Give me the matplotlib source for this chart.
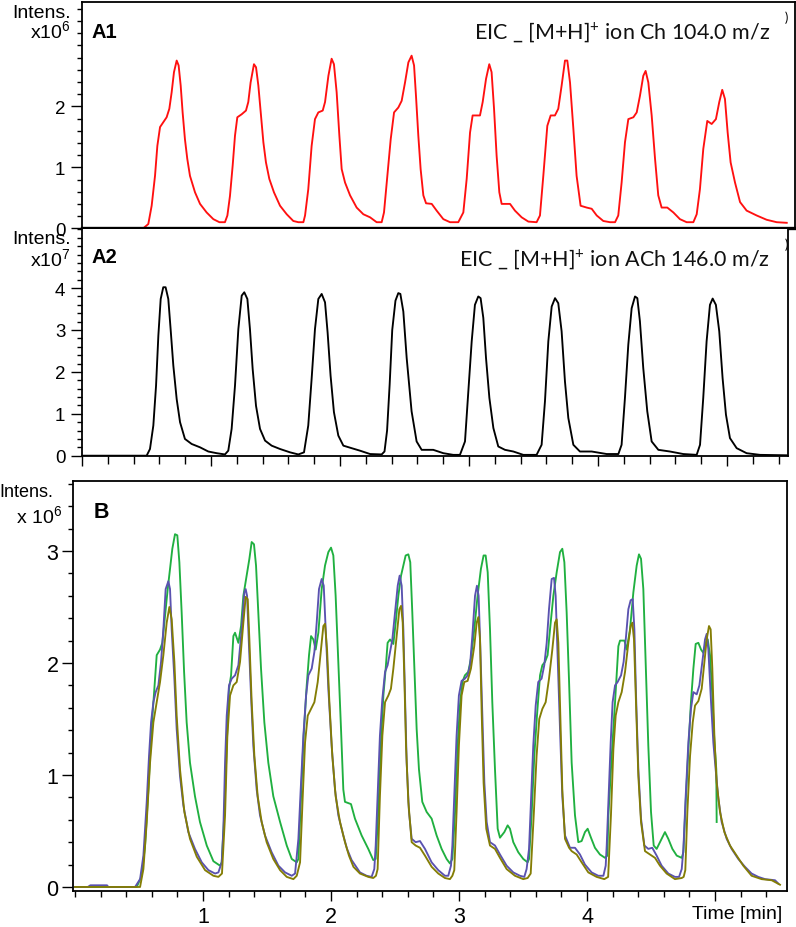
import matplotlib
matplotlib.use("Agg")
import matplotlib.pyplot as plt
from matplotlib.ticker import MultipleLocator, FixedLocator, NullFormatter

plt.rcParams['font.family'] = ['Liberation Sans', 'DejaVu Sans']
plt.rcParams['mathtext.default'] = 'regular'

# ---------------- data (time [min], intensity) ----------------
ch_points = [  # A1, x10^6, red
    (0.00, 0.00), (0.475, 0.00), (0.514, 0.07), (0.540, 0.37), (0.566, 0.86), (0.584, 1.35), (0.605, 1.66),
    (0.630, 1.74), (0.656, 1.82), (0.677, 1.96), (0.695, 2.23), (0.713, 2.56), (0.734, 2.75), (0.749, 2.67),
    (0.765, 2.34), (0.780, 1.90), (0.798, 1.46), (0.816, 1.14), (0.837, 0.86), (0.876, 0.59), (0.915, 0.40),
    (0.966, 0.26), (1.018, 0.15), (1.065, 0.10), (1.108, 0.10),
    (1.127, 0.21), (1.147, 0.53), (1.168, 1.03), (1.186, 1.52), (1.204, 1.82), (1.238, 1.87), (1.271, 1.93),
    (1.289, 2.07), (1.307, 2.39), (1.333, 2.69), (1.349, 2.64), (1.367, 2.34), (1.388, 1.85), (1.406, 1.41),
    (1.426, 1.08), (1.452, 0.81), (1.488, 0.59), (1.535, 0.37), (1.587, 0.23), (1.638, 0.12), (1.677, 0.10),
    (1.716, 0.10),
    (1.729, 0.21), (1.754, 0.64), (1.780, 1.35), (1.806, 1.79), (1.832, 1.90), (1.866, 1.93), (1.884, 2.07),
    (1.910, 2.50), (1.935, 2.78), (1.953, 2.69), (1.974, 2.23), (1.995, 1.52), (2.013, 0.97), (2.039, 0.75),
    (2.078, 0.54), (2.129, 0.34), (2.181, 0.23), (2.233, 0.18), (2.284, 0.10), (2.323, 0.10),
    (2.341, 0.26), (2.367, 0.86), (2.393, 1.46), (2.419, 1.90), (2.452, 1.98), (2.478, 2.09), (2.504, 2.39),
    (2.530, 2.72), (2.555, 2.83), (2.574, 2.67), (2.589, 2.17), (2.607, 1.52), (2.625, 0.97), (2.646, 0.54),
    (2.667, 0.41), (2.711, 0.40), (2.749, 0.29), (2.801, 0.15), (2.853, 0.10), (2.917, 0.10),
    (2.956, 0.26), (2.982, 0.81), (3.008, 1.57), (3.028, 1.85), (3.059, 1.85), (3.085, 1.85), (3.106, 2.07),
    (3.132, 2.45), (3.157, 2.69), (3.175, 2.56), (3.194, 1.96), (3.214, 1.19), (3.235, 0.59), (3.253, 0.40),
    (3.292, 0.40), (3.318, 0.40), (3.356, 0.29), (3.408, 0.18), (3.460, 0.11), (3.524, 0.10),
    (3.550, 0.21), (3.576, 0.86), (3.607, 1.68), (3.633, 1.85), (3.666, 1.85), (3.692, 1.96), (3.718, 2.34),
    (3.744, 2.75), (3.762, 2.75), (3.783, 2.39), (3.809, 1.63), (3.834, 0.86), (3.865, 0.37), (3.912, 0.34),
    (3.951, 0.32), (3.990, 0.21), (4.041, 0.12), (4.093, 0.10), (4.132, 0.10),
    (4.157, 0.21), (4.183, 0.75), (4.209, 1.41), (4.235, 1.79), (4.274, 1.82), (4.300, 1.90), (4.325, 2.17),
    (4.351, 2.50), (4.369, 2.58), (4.390, 2.39), (4.416, 1.85), (4.442, 1.14), (4.467, 0.54), (4.493, 0.34),
    (4.537, 0.34), (4.584, 0.26), (4.635, 0.15), (4.687, 0.10), (4.739, 0.10),
    (4.765, 0.23), (4.790, 0.64), (4.816, 1.30), (4.847, 1.76), (4.881, 1.71), (4.914, 1.79), (4.940, 2.07),
    (4.963, 2.27), (4.984, 2.12), (5.005, 1.57), (5.028, 1.08), (5.062, 0.75), (5.101, 0.43), (5.152, 0.29),
    (5.230, 0.21), (5.307, 0.14), (5.385, 0.10), (5.463, 0.09),
]

ach_points = [  # A2, x10^7, black
    (0.00, 0.00), (0.501, 0.00), (0.527, 0.16), (0.553, 0.72), (0.574, 1.67), (0.592, 2.87), (0.610, 3.74),
    (0.630, 4.02), (0.648, 4.02), (0.669, 3.74), (0.687, 3.02), (0.708, 2.15), (0.734, 1.35), (0.760, 0.80),
    (0.798, 0.40), (0.850, 0.28), (0.915, 0.20), (0.979, 0.10), (1.044, 0.06), (1.108, 0.03),
    (1.134, 0.12), (1.160, 0.64), (1.186, 1.67), (1.212, 3.02), (1.238, 3.82), (1.258, 3.90), (1.282, 3.74),
    (1.302, 3.02), (1.323, 2.07), (1.349, 1.19), (1.380, 0.64), (1.419, 0.36), (1.470, 0.24), (1.535, 0.16),
    (1.613, 0.08), (1.677, 0.03),
    (1.721, 0.08), (1.754, 0.72), (1.780, 1.83), (1.806, 3.02), (1.832, 3.74), (1.858, 3.86), (1.884, 3.66),
    (1.904, 2.94), (1.927, 1.91), (1.953, 1.04), (1.987, 0.48), (2.026, 0.24), (2.090, 0.18), (2.155, 0.12),
    (2.233, 0.04), (2.323, 0.03),
    (2.345, 0.10), (2.365, 0.60), (2.385, 1.70), (2.405, 3.00), (2.430, 3.70), (2.452, 3.88), (2.468, 3.86),
    (2.491, 3.44), (2.517, 2.33), (2.555, 1.06), (2.594, 0.34), (2.633, 0.14), (2.723, 0.14), (2.801, 0.06),
    (2.878, 0.02), (2.930, 0.02),
    (2.969, 0.34), (2.995, 1.54), (3.021, 2.73), (3.046, 3.60), (3.072, 3.80), (3.090, 3.76), (3.111, 3.29),
    (3.132, 2.33), (3.158, 1.38), (3.189, 0.66), (3.227, 0.22), (3.279, 0.14), (3.344, 0.10), (3.421, 0.02),
    (3.524, 0.02),
    (3.563, 0.26), (3.589, 1.30), (3.615, 2.73), (3.641, 3.56), (3.667, 3.76), (3.692, 3.64), (3.718, 2.97),
    (3.744, 1.77), (3.770, 0.90), (3.809, 0.26), (3.860, 0.10), (3.951, 0.10), (4.067, 0.04), (4.158, 0.04),
    (4.183, 0.26), (4.209, 1.38), (4.235, 2.65), (4.261, 3.52), (4.287, 3.80), (4.305, 3.76), (4.325, 3.21),
    (4.351, 2.09), (4.382, 1.06), (4.416, 0.34), (4.468, 0.14), (4.558, 0.10), (4.661, 0.04), (4.765, 0.02),
    (4.791, 0.26), (4.816, 1.38), (4.842, 2.73), (4.868, 3.60), (4.889, 3.75), (4.914, 3.60), (4.940, 2.97),
    (4.966, 1.85), (4.992, 0.98), (5.023, 0.42), (5.075, 0.18), (5.152, 0.06), (5.256, 0.02), (5.463, 0.01),
]

green_points = [  # B, x10^6
    (0.00, 0.00), (0.482, 0.00), (0.521, 0.10), (0.547, 0.37), (0.573, 0.87), (0.594, 1.35), (0.620, 1.77),
    (0.638, 2.07), (0.664, 2.12), (0.682, 2.18), (0.703, 2.42), (0.724, 2.66), (0.742, 2.84), (0.760, 3.02),
    (0.781, 3.15), (0.799, 3.14), (0.815, 2.90), (0.833, 2.45), (0.852, 1.92), (0.872, 1.47), (0.898, 1.11),
    (0.937, 0.81), (0.976, 0.58), (1.029, 0.37), (1.081, 0.23), (1.133, 0.19), (1.146, 0.22),
    (1.167, 0.67), (1.185, 1.26), (1.203, 1.77), (1.219, 1.89), (1.237, 2.24), (1.250, 2.27), (1.276, 2.18),
    (1.297, 2.33), (1.315, 2.60), (1.341, 2.78), (1.362, 2.93), (1.380, 3.08), (1.398, 3.06), (1.414, 2.87),
    (1.432, 2.45), (1.453, 1.95), (1.479, 1.47), (1.510, 1.11), (1.549, 0.81), (1.602, 0.58), (1.654, 0.37),
    (1.693, 0.25), (1.732, 0.22), (1.745, 0.25),
    (1.766, 0.81), (1.786, 1.35), (1.810, 1.80), (1.828, 2.07), (1.844, 2.24), (1.862, 2.21), (1.880, 2.12),
    (1.901, 2.27), (1.927, 2.66), (1.953, 2.87), (1.979, 2.99), (2.000, 3.03), (2.018, 2.96), (2.036, 2.60),
    (2.057, 2.01), (2.078, 1.41), (2.096, 0.87), (2.109, 0.76), (2.156, 0.74), (2.187, 0.61), (2.239, 0.46),
    (2.291, 0.34), (2.330, 0.24), (2.349, 0.25),
    (2.369, 0.67), (2.390, 1.29), (2.409, 1.71), (2.427, 1.95), (2.442, 2.18), (2.461, 2.21), (2.487, 2.17),
    (2.505, 2.36), (2.526, 2.60), (2.547, 2.78), (2.565, 2.87), (2.583, 2.96), (2.604, 2.97), (2.619, 2.90),
    (2.635, 2.45), (2.651, 1.95), (2.669, 1.41), (2.687, 1.05), (2.713, 0.76), (2.747, 0.67), (2.786, 0.61),
    (2.825, 0.46), (2.864, 0.34), (2.903, 0.25), (2.929, 0.21), (2.948, 0.25),
    (2.969, 0.67), (2.989, 1.26), (3.007, 1.62), (3.026, 1.83), (3.046, 1.89), (3.072, 1.92), (3.093, 2.04),
    (3.119, 2.30), (3.145, 2.60), (3.171, 2.84), (3.192, 2.96), (3.208, 2.96), (3.224, 2.81), (3.242, 2.30),
    (3.260, 1.65), (3.281, 1.05), (3.302, 0.52), (3.320, 0.44), (3.354, 0.49), (3.380, 0.55), (3.398, 0.52),
    (3.424, 0.40), (3.463, 0.31), (3.502, 0.25), (3.536, 0.22), (3.547, 0.25),
    (3.567, 0.64), (3.588, 1.17), (3.609, 1.53), (3.633, 1.89), (3.651, 1.98), (3.672, 2.01), (3.692, 2.07),
    (3.711, 2.30), (3.737, 2.60), (3.763, 2.81), (3.789, 2.99), (3.807, 3.02), (3.823, 2.90), (3.841, 2.45),
    (3.859, 1.86), (3.880, 1.11), (3.906, 0.64), (3.932, 0.40), (3.958, 0.41), (3.984, 0.49), (4.005, 0.52),
    (4.031, 0.44), (4.062, 0.35), (4.101, 0.29), (4.141, 0.26), (4.159, 0.28),
    (4.167, 0.64), (4.193, 1.17), (4.219, 1.65), (4.245, 2.15), (4.258, 2.20), (4.292, 2.20), (4.310, 2.12),
    (4.336, 2.30), (4.362, 2.63), (4.388, 2.87), (4.406, 2.97), (4.422, 2.93), (4.440, 2.66), (4.458, 2.01),
    (4.479, 1.26), (4.500, 0.67), (4.521, 0.37), (4.544, 0.34), (4.583, 0.43), (4.609, 0.49), (4.635, 0.43),
    (4.667, 0.34), (4.701, 0.28), (4.740, 0.26), (4.753, 0.31),
    (4.771, 0.76), (4.792, 1.23), (4.812, 1.65), (4.831, 1.95), (4.849, 2.17), (4.870, 2.18), (4.891, 2.12),
    (4.909, 2.09), (4.927, 2.18), (4.943, 2.21), (4.961, 2.07), (4.979, 1.71), (4.995, 1.30), (5.010, 1.05),
    (5.013, 0.58),
]

blue_points = [  # B, x10^6
    (0.00, 0.00), (0.10, 0.00), (0.12, 0.015), (0.25, 0.015), (0.26, 0.00), (0.469, 0.00), (0.508, 0.07),
    (0.534, 0.28), (0.560, 0.76), (0.578, 1.17), (0.594, 1.47), (0.612, 1.65), (0.630, 1.74), (0.651, 1.80),
    (0.672, 2.01), (0.690, 2.30), (0.708, 2.66), (0.729, 2.73), (0.742, 2.66), (0.755, 2.30), (0.776, 1.86),
    (0.794, 1.41), (0.820, 0.99), (0.846, 0.73), (0.885, 0.49), (0.937, 0.34), (0.990, 0.22), (1.042, 0.15),
    (1.094, 0.12), (1.120, 0.13),
    (1.146, 0.22), (1.159, 0.52), (1.172, 1.11), (1.185, 1.53), (1.203, 1.80), (1.224, 1.86), (1.250, 1.89),
    (1.276, 1.98), (1.302, 2.30), (1.323, 2.63), (1.333, 2.66), (1.344, 2.60), (1.359, 2.15), (1.375, 1.71),
    (1.393, 1.26), (1.419, 0.87), (1.445, 0.64), (1.484, 0.46), (1.536, 0.31), (1.589, 0.19), (1.641, 0.13),
    (1.693, 0.10), (1.719, 0.12),
    (1.745, 0.43), (1.763, 0.87), (1.784, 1.35), (1.805, 1.71), (1.823, 1.89), (1.849, 1.95), (1.870, 2.10),
    (1.888, 2.36), (1.906, 2.66), (1.927, 2.75), (1.943, 2.69), (1.958, 2.30), (1.979, 1.77), (2.005, 1.26),
    (2.031, 0.87), (2.057, 0.64), (2.096, 0.46), (2.125, 0.34), (2.161, 0.24), (2.226, 0.13), (2.278, 0.10),
    (2.317, 0.09), (2.338, 0.16),
    (2.349, 0.37), (2.364, 0.81), (2.382, 1.35), (2.401, 1.68), (2.422, 1.92), (2.442, 1.98), (2.461, 2.10),
    (2.479, 2.21), (2.500, 2.45), (2.521, 2.69), (2.536, 2.78), (2.552, 2.69), (2.565, 2.30), (2.578, 1.71),
    (2.591, 1.11), (2.609, 0.67), (2.630, 0.43), (2.661, 0.40), (2.695, 0.41), (2.734, 0.34), (2.786, 0.22),
    (2.838, 0.15), (2.890, 0.10), (2.916, 0.10), (2.937, 0.19),
    (2.948, 0.37), (2.963, 0.81), (2.981, 1.35), (2.999, 1.71), (3.020, 1.84), (3.046, 1.86), (3.067, 1.89),
    (3.086, 1.98), (3.104, 2.24), (3.125, 2.60), (3.140, 2.69), (3.153, 2.60), (3.166, 2.15), (3.182, 1.53),
    (3.198, 0.93), (3.216, 0.58), (3.242, 0.40), (3.281, 0.37), (3.320, 0.29), (3.372, 0.19), (3.424, 0.13),
    (3.476, 0.10), (3.510, 0.09), (3.528, 0.16),
    (3.547, 0.34), (3.562, 0.76), (3.580, 1.26), (3.599, 1.62), (3.619, 1.83), (3.645, 1.86), (3.666, 1.98),
    (3.685, 2.18), (3.703, 2.48), (3.724, 2.75), (3.742, 2.76), (3.755, 2.60), (3.770, 2.07), (3.789, 1.41),
    (3.807, 0.81), (3.828, 0.46), (3.867, 0.35), (3.906, 0.35), (3.945, 0.29), (3.984, 0.20), (4.036, 0.13),
    (4.088, 0.10), (4.128, 0.10), (4.146, 0.19),
    (4.154, 0.37), (4.167, 0.76), (4.185, 1.29), (4.200, 1.65), (4.219, 1.80), (4.239, 1.83), (4.266, 1.89),
    (4.286, 2.01), (4.305, 2.24), (4.323, 2.48), (4.341, 2.56), (4.357, 2.57), (4.370, 2.30), (4.383, 1.71),
    (4.401, 1.05), (4.422, 0.61), (4.448, 0.37), (4.479, 0.34), (4.510, 0.35), (4.544, 0.28), (4.583, 0.19),
    (4.635, 0.12), (4.687, 0.09), (4.719, 0.09), (4.740, 0.16),
    (4.753, 0.34), (4.771, 0.81), (4.792, 1.29), (4.812, 1.59), (4.831, 1.74), (4.857, 1.72), (4.878, 1.80),
    (4.901, 2.01), (4.922, 2.21), (4.935, 2.26), (4.948, 2.12), (4.969, 1.65), (4.987, 1.29), (5.005, 1.05),
    (5.026, 0.79), (5.052, 0.58), (5.091, 0.43), (5.130, 0.34), (5.182, 0.25), (5.234, 0.18), (5.286, 0.12),
    (5.338, 0.09), (5.391, 0.07), (5.469, 0.06), (5.495, 0.03),
]

olive_points = [  # B, x10^6
    (0.00, 0.00), (0.508, 0.00), (0.534, 0.16), (0.560, 0.58), (0.586, 1.11), (0.612, 1.47), (0.638, 1.65),
    (0.664, 1.83), (0.690, 2.07), (0.716, 2.36), (0.737, 2.50), (0.755, 2.39), (0.776, 2.01), (0.794, 1.53),
    (0.820, 1.05), (0.854, 0.67), (0.898, 0.43), (0.951, 0.27), (1.016, 0.15), (1.081, 0.10), (1.120, 0.09),
    (1.148, 0.12), (1.172, 0.64), (1.190, 1.35), (1.211, 1.71), (1.237, 1.80), (1.263, 1.83), (1.289, 2.01),
    (1.315, 2.36), (1.333, 2.59), (1.349, 2.57), (1.362, 2.21), (1.380, 1.65), (1.401, 1.17), (1.427, 0.81),
    (1.458, 0.58), (1.497, 0.40), (1.549, 0.25), (1.602, 0.15), (1.654, 0.09), (1.706, 0.07), (1.732, 0.10),
    (1.758, 0.22), (1.779, 0.81), (1.797, 1.29), (1.818, 1.53), (1.844, 1.59), (1.870, 1.65), (1.896, 1.83),
    (1.922, 2.12), (1.940, 2.33), (1.953, 2.35), (1.969, 2.12), (1.987, 1.65), (2.010, 1.17), (2.036, 0.81),
    (2.070, 0.58), (2.109, 0.40), (2.140, 0.28), (2.175, 0.18), (2.226, 0.12), (2.291, 0.09), (2.330, 0.08),
    (2.351, 0.10), (2.364, 0.16), (2.382, 0.81), (2.401, 1.35), (2.422, 1.65), (2.448, 1.71), (2.468, 1.77),
    (2.487, 1.95), (2.513, 2.24), (2.534, 2.48), (2.547, 2.51), (2.560, 2.36), (2.573, 1.86), (2.586, 1.26),
    (2.604, 0.76), (2.630, 0.40), (2.661, 0.37), (2.695, 0.35), (2.734, 0.28), (2.786, 0.18), (2.838, 0.12),
    (2.890, 0.08), (2.929, 0.07),
    (2.948, 0.10), (2.963, 0.15), (2.981, 0.67), (2.999, 1.26), (3.020, 1.71), (3.041, 1.83), (3.067, 1.84),
    (3.093, 1.95), (3.119, 2.15), (3.138, 2.36), (3.151, 2.41), (3.164, 2.21), (3.177, 1.56), (3.192, 0.93),
    (3.213, 0.52), (3.242, 0.37), (3.281, 0.34), (3.320, 0.26), (3.372, 0.16), (3.437, 0.10), (3.502, 0.07),
    (3.536, 0.08), (3.560, 0.12), (3.585, 0.67), (3.606, 1.17), (3.627, 1.50), (3.651, 1.59), (3.677, 1.65),
    (3.703, 1.86), (3.729, 2.12), (3.750, 2.36), (3.763, 2.39), (3.776, 2.18), (3.791, 1.53), (3.807, 0.87),
    (3.828, 0.43), (3.860, 0.35), (3.880, 0.32), (3.919, 0.29), (3.958, 0.22), (4.010, 0.13), (4.075, 0.09),
    (4.135, 0.07), (4.165, 0.09), (4.187, 0.64), (4.206, 1.23), (4.224, 1.53), (4.245, 1.65), (4.271, 1.74),
    (4.297, 1.92), (4.323, 2.18), (4.341, 2.33), (4.354, 2.36), (4.367, 2.21), (4.383, 1.65), (4.401, 0.99),
    (4.422, 0.58), (4.453, 0.32), (4.492, 0.29), (4.531, 0.26), (4.570, 0.19), (4.622, 0.12), (4.687, 0.07),
    (4.740, 0.08), (4.755, 0.09), (4.768, 0.15), (4.784, 0.67), (4.805, 1.17), (4.826, 1.47), (4.844, 1.62),
    (4.870, 1.66), (4.896, 1.77), (4.917, 2.01), (4.935, 2.21), (4.953, 2.33), (4.966, 2.30), (4.979, 1.95),
    (4.995, 1.35), (5.013, 0.93), (5.039, 0.67), (5.073, 0.49), (5.117, 0.37), (5.169, 0.28), (5.221, 0.19),
    (5.286, 0.10), (5.364, 0.07), (5.443, 0.06), (5.508, 0.02),
]

a1_yticks = [0, 1, 2]
a2_yticks = [0, 1, 2, 3, 4]
b_yticks = [0, 1, 2, 3]
b_xticks = [1, 2, 3, 4, 5]
b_xticklabels = ['1', '2', '3', '4', '']

a1_title = r'EIC _ [M+H$]^{+}$ ion Ch 104.0 m/z'
a2_title = r'EIC _ [M+H$]^{+}$ ion ACh 146.0 m/z'

# ---------------- figure ----------------
W, H = 796, 928
fig = plt.figure(figsize=(W / 100, H / 100), dpi=100)


def rect(x0, y0, x1, y1):
    return [x0 / W, 1 - y1 / H, (x1 - x0) / W, (y1 - y0) / H]


def ftext(x, y, s, **kw):
    fig.text(x / W, 1 - y / H, s, **kw)


def split(pts):
    return [p[0] for p in pts], [p[1] for p in pts]


ax1 = fig.add_axes(rect(82, 3, 795, 229.3))
ax2 = fig.add_axes(rect(82, 230, 788, 456.7))
ax3 = fig.add_axes(rect(73, 482, 787, 892))

lw_line = 1.35
t, v = split(ch_points)
ax1.plot(t, v, color='#ff1010', lw=lw_line)
t, v = split(ach_points)
ax2.plot(t, v, color='black', lw=lw_line)
t, v = split(green_points)
ax3.plot(t, v, color='#20b040', lw=lw_line)
t, v = split(blue_points)
ax3.plot(t, v, color='#5a52b0', lw=lw_line)
t, v = split(olive_points)
ax3.plot(t, v, color='#847d05', lw=lw_line)

ax1.set_xlim(0, 5.527)
ax1.set_ylim(0, 3.71)
ax2.set_xlim(0, 5.473)
ax2.set_ylim(0, 5.41)
ax3.set_xlim(-0.016, 5.5625)
ax3.set_ylim(-0.036, 3.625)

for ax in (ax1, ax2, ax3):
    for s in ax.spines.values():
        s.set_linewidth(1.3)
        s.set_color('black')
    ax.tick_params(axis='both', which='both', direction='out', color='black', width=1.0)
    ax.yaxis.set_minor_locator(MultipleLocator(0.2))
    ax.tick_params(axis='y', which='major', length=8)
    ax.tick_params(axis='y', which='minor', length=3.8)

ax1.spines['bottom'].set_linewidth(2.4)
ax2.spines['top'].set_visible(False)

ax1.yaxis.set_major_locator(FixedLocator(a1_yticks))
ax2.yaxis.set_major_locator(FixedLocator(a2_yticks))
ax3.yaxis.set_major_locator(FixedLocator(b_yticks))
for ax in (ax1, ax2):
    ax.tick_params(axis='y', labelsize=13.5, pad=4)
ax3.tick_params(axis='y', labelsize=15.5, pad=2.5)

ax1.set_xticks([])
ax1.xaxis.set_minor_locator(FixedLocator([]))
ax2.xaxis.set_major_locator(MultipleLocator(1))
ax2.xaxis.set_minor_locator(MultipleLocator(0.2))
ax2.xaxis.set_major_formatter(NullFormatter())
ax2.tick_params(axis='x', which='major', length=7.5)
ax2.tick_params(axis='x', which='minor', length=5.5)

ax3.xaxis.set_major_locator(FixedLocator(b_xticks))
ax3.set_xticklabels(b_xticklabels)
ax3.xaxis.set_minor_locator(MultipleLocator(0.2))
ax3.tick_params(axis='x', which='major', length=7, labelsize=15.5, pad=4)
ax3.tick_params(axis='x', which='minor', length=4)

# ---------------- texts ----------------
lab = dict(family=['Liberation Sans', 'DejaVu Sans'], color='black', va='baseline')
ftext(71, 18, 'Intens.', ha='right', fontsize=14, **lab)
ftext(71, 38, r'x10$^6$', ha='right', fontsize=14, **lab)
ftext(71, 244, 'Intens.', ha='right', fontsize=14, **lab)
ftext(71, 266, r'x10$^7$', ha='right', fontsize=14, **lab)
ftext(53, 497, 'Intens.', ha='right', fontsize=13, **lab)
ftext(62, 523, r'x 10$^6$', ha='right', fontsize=14, **lab)

ftext(92, 38, 'A1', ha='left', fontsize=14.5, fontweight='bold', **lab)
ftext(92, 263, 'A2', ha='left', fontsize=14.5, fontweight='bold', **lab)
ftext(94, 518, 'B', ha='left', fontsize=15.5, fontweight='bold', **lab)

ttl = dict(family=['Lato', 'DejaVu Sans'], color='#111111', va='baseline', ha='right', fontsize=15.5)
ftext(770, 39, a1_title, **ttl)
ftext(770, 266, a2_title, **ttl)
ftext(788, 22, ')', ha='right', fontsize=9, family=['Lato', 'DejaVu Sans'], va='baseline')
ftext(788, 249, ')', ha='right', fontsize=9, family=['Lato', 'DejaVu Sans'], va='baseline')

ftext(782, 919, 'Time [min]', ha='right', fontsize=14, **lab)

fig.savefig('out.png', dpi=100, facecolor='white')
